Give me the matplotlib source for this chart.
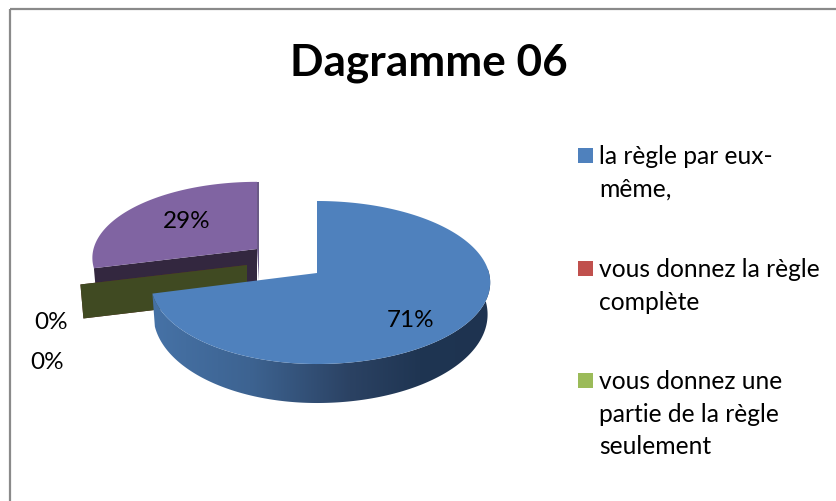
import numpy as np
import matplotlib
matplotlib.use("Agg")
import matplotlib.pyplot as plt
from matplotlib.patches import Polygon, Rectangle
from matplotlib.colors import to_rgb

title = "Dagramme 06"
categories = ["la règle par eux-\nmême,", "vous donnez la règle\ncomplète",
              "vous donnez une\npartie de la règle\nseulement", "autre"]
values = [71, 0, 0, 29]
pct_labels = ["71%", "0%", "0%", "29%"]
top_colors = ["#4f81bd", "#c0504d", "#9bbb59", "#8064a2"]
wall_colors = ["#2a4464", "#5c2523", "#404a22", "#33273f"]

FONT = "Lato"
# slice geometry: apex x, apex y, right radius, left radius, vertical radius
geom = [(317, 274, 172, 165, 80.4), (247, 266, 167, 167, 76), (247, 266, 167, 167, 76), (257, 250, 163.5, 163.5, 75)]
K = 0.1166
DEPTH = 34

fig = plt.figure(figsize=(8.36, 5.02), dpi=100, facecolor="white")
ax = fig.add_axes([0, 0, 1, 1])
ax.set_xlim(0, 836)
ax.set_ylim(502, 0)
ax.axis("off")

ax.plot([10, 10], [502, 10], color="#8a8a8a", lw=1.6, solid_capstyle="butt")
ax.plot([10, 836], [10, 10], color="#8a8a8a", lw=1.6, solid_capstyle="butt")


def project(theta, g, scale=1.0):
    cx, cy, rr, rl, ry = g
    u, v = np.sin(theta), np.cos(theta)
    d = 1 + K * v
    rx = np.where(u >= 0, rr, rl)
    return cx + scale * rx * u / d, cy - scale * ry * v / d


edges = np.cumsum([0] + values) / sum(values) * 2 * np.pi


def flat_wall(i, th, z):
    g = geom[i]
    x, y = project(th, g)
    ax.add_patch(Polygon([(g[0], g[1]), (x, y), (x + 3, y + DEPTH), (g[0], g[1] + DEPTH)],
                         closed=True, fc=wall_colors[i], ec="none", zorder=z))


def top_face(i, z):
    g = geom[i]
    th = np.linspace(edges[i], edges[i + 1], 300)
    x, y = project(th, g)
    pts = [(g[0], g[1])] + list(zip(x, y))
    ax.add_patch(Polygon(pts, closed=True, fc=top_colors[i], ec="none", zorder=z))


# purple slice (back)
flat_wall(3, edges[3], 2)
top_face(3, 3)
gp = geom[3]
xp, yp = project(np.array([0.0]), gp)
ax.add_patch(Polygon([(gp[0], gp[1]), (xp[0], yp[0]), (xp[0] + 2, yp[0]), (gp[0] + 2, gp[1] + 32)],
                     closed=True, fc="#6a5a86", ec="none", zorder=3))
# zero-size slices: only their cut wall shows
flat_wall(1, edges[2], 4)
flat_wall(2, edges[3], 5)

# blue slice: sliver, curved front wall, top
g0 = geom[0]
xs, ys = project(np.array([0.0]), g0)
ax.add_patch(Polygon([(g0[0], g0[1]), (xs[0], ys[0]), (xs[0] + 1.5, ys[0] + 3), (g0[0] + 2, g0[1])],
                     closed=True, fc="#1f3552", ec="none", zorder=6))
th = np.linspace(np.pi / 2 - 0.1, edges[1], 260)
xt, yt = project(th, g0)
xb = g0[0] + (xt - g0[0]) * 0.985
yb = yt + (31 - 8 * np.cos(th))
wall = Polygon(list(zip(xt, yt)) + list(zip(xb, yb))[::-1], closed=True, transform=ax.transData, fc="none", ec="none")
ax.add_patch(wall)
grad_x = [153, 250, 350, 420, 489]
grad_c = np.array([to_rgb(c) for c in ["#4672a6", "#3d6391", "#2b4263", "#1f3552", "#1e3350"]])
xx = np.arange(150, 492)
img = np.stack([np.interp(xx, grad_x, grad_c[:, i]) for i in range(3)], axis=-1)[None, :, :]
im = ax.imshow(img, extent=(150, 492, 420, 270), aspect="auto", zorder=7, interpolation="bilinear")
im.set_clip_path(wall)
ax.set_xlim(0, 836)
ax.set_ylim(502, 0)
top_face(0, 8)

# labels
label_pos = [(410.5, 321), (51, 323), (47, 363), (186.5, 222)]
for s, (x, y) in zip(pct_labels, label_pos):
    ax.text(x, y, s, ha="center", va="center", fontsize=17.5, family=FONT, color="black", zorder=10)

ax.text(429, 63, title, ha="center", va="center", fontsize=31.8, fontweight="bold", family=FONT, color="black")

# legend
legend_y = [164, 277, 389]
for c, s, y in zip(top_colors[:3], categories[:3], legend_y):
    ax.add_patch(Rectangle((578, y - 15), 15, 15, fc=c, ec="none"))
    for n, line in enumerate(s.split("\n")):
        ax.text(599, y + n * 32.6, line, ha="left", va="baseline", fontsize=17.7, family=FONT, color="black")

fig.savefig("out.png", dpi=100)
